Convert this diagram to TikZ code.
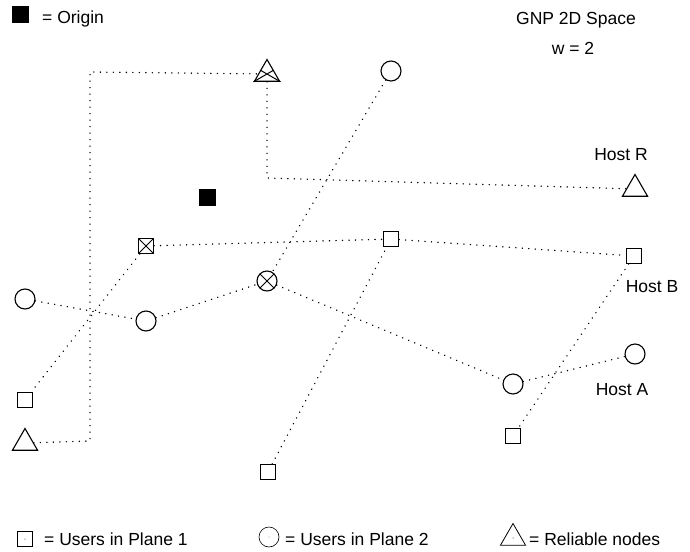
\documentclass[tikz,border=0pt]{standalone}
\usepackage{fontspec}
\setmainfont{Liberation Sans}
\usetikzlibrary{shapes.geometric}
\begin{document}
\begin{tikzpicture}[x=1pt,y=-1pt,
  every node/.style={font=\fontsize{17.5}{20}\selectfont},
  usq/.style={draw, rectangle, line width=1.1pt, minimum size=15pt, inner sep=0pt},
  ucirc/.style={draw, circle, line width=1.1pt, minimum size=20pt, inner sep=0pt},
  rtri/.style={draw, regular polygon, regular polygon sides=3, line width=1.1pt, minimum size=29pt, inner sep=0pt},
  origin/.style={fill=black, rectangle, minimum size=17pt, inner sep=0pt},
  crossed/.style={path picture={\draw[line width=1pt]
      (path picture bounding box.south west) -- (path picture bounding box.north east)
      (path picture bounding box.north west) -- (path picture bounding box.south east);}},
  link/.style={line width=1.5pt, line cap=round, dash pattern=on 0.1pt off 6.4pt},
  lbl/.style={inner sep=0pt}
]
\useasboundingbox (0,0) rectangle (690,551);

% legend: origin and title
\node[origin] (olg) at (20,15) {};
\node[lbl, anchor=west] (olgt) at (42,19) {= Origin};
\node[lbl] (title) at (576,20) {GNP 2D Space};
\node[lbl] (wval) at (573,48) {w = 2};

% nodes
\node[rtri] (t1) at (267,74) {};
\draw[line width=1pt] (t1.corner 2) -- (t1.side 3) (t1.corner 3) -- (t1.side 1);
\node[ucirc] (c1) at (391,71) {};
\node[rtri] (tr) at (635,189) {};
\node[lbl] (hr) at (621,155) {Host R};
\node[origin] (org) at (207,197) {};
\node[usq, crossed] (xs) at (146,246) {};
\node[usq] (s1) at (391,239) {};
\node[usq] (sb) at (634,256) {};
\node[lbl] (hb) at (652,287) {Host B};
\node[ucirc] (cl) at (25,299) {};
\node[ucirc, crossed] (xc) at (267,281) {};
\node[ucirc] (c2) at (146,321) {};
\node[ucirc] (ca) at (635,354) {};
\node[lbl] (ha) at (622,390) {Host A};
\node[ucirc] (c3) at (513,384) {};
\node[usq] (s2) at (25,400) {};
\node[usq] (s3) at (513,436) {};
\node[rtri] (tl) at (25,443) {};
\node[usq] (s4) at (268,472) {};

% bends of the reliable-node path
\coordinate (b1) at (90,441);
\coordinate (b2) at (90,72);
\coordinate (b3) at (267,178);

% connectors
\draw[link] (tl) -- (b1) -- (b2) -- (t1);
\draw[link] (t1) -- (b3) -- (tr);
\draw[link] (c1) -- (xc);
\draw[link] (s4) -- (s1);
\draw[link] (xs) -- (s1) -- (sb);
\draw[link] (xs) -- (s2);
\draw[link] (cl) -- (c2) -- (xc) -- (c3) -- (ca);
\draw[link] (sb) -- (s3);

% legend at the bottom
\node[usq] (lsq) at (25,539) {};
\fill (lsq.center) circle (0.5pt);
\node[lbl, anchor=west] (lsqt) at (44,539) {= Users in Plane 1};
\node[ucirc, line width=0.6pt] (lci) at (269,537) {};
\fill (lci.center) circle (0.3pt);
\node[lbl, anchor=west] (lcit) at (285,539) {= Users in Plane 2};
\node[rtri, line width=0.8pt] (ltr) at (513,538) {};
\fill (ltr.center) circle (0.5pt);
\node[lbl, anchor=west] (ltrt) at (529,539) {= Reliable nodes};
\end{tikzpicture}
\end{document}
